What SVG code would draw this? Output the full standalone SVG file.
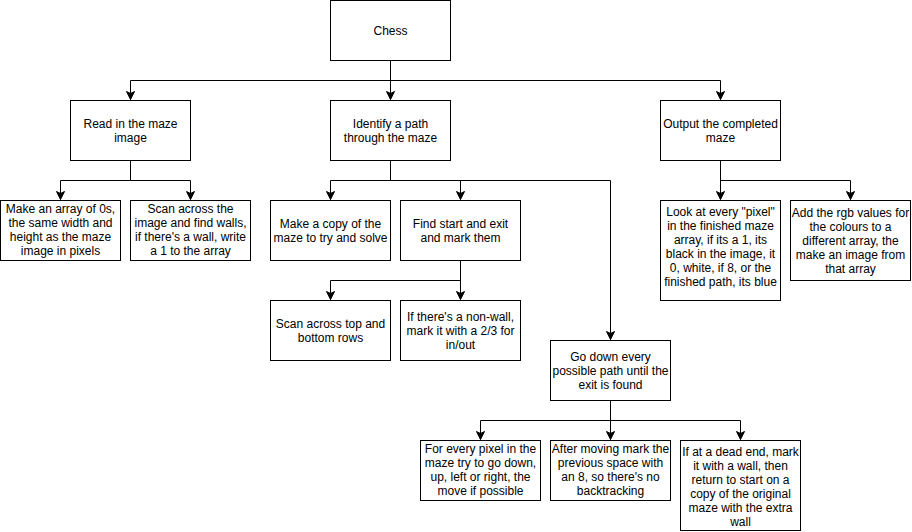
<svg xmlns="http://www.w3.org/2000/svg" width="912" height="532" viewBox="0 0 912 532">
<defs>
<style>
.box{fill:#fff;stroke:#000;stroke-width:1}
.lbl{font-family:"Liberation Sans",Arial,Helvetica,sans-serif;font-size:12px;fill:#000;text-anchor:middle}
.edge{fill:none;stroke:#000;stroke-width:1;marker-end:url(#arr)}
</style>
<marker id="arr" markerUnits="userSpaceOnUse" markerWidth="10" markerHeight="10" viewBox="-9 -5 10 10" refX="0" refY="0" orient="auto">
<path d="M0,0 L-8,-4 L-6,0 L-8,4 Z" fill="#000" stroke="#000" stroke-width="1"/>
</marker>
</defs>
<rect width="912" height="532" fill="#fff"/>
<g transform="translate(0.5,0.5)">
<g id="connectors">
<path class="edge" d="M390,60 V80 H130 V99"/>
<path class="edge" d="M390,60 V99"/>
<path class="edge" d="M390,60 V80 H720 V99"/>
<path class="edge" d="M130,160 V180 H60 V199"/>
<path class="edge" d="M130,160 V180 H190 V199"/>
<path class="edge" d="M390,160 V180 H330 V199"/>
<path class="edge" d="M390,160 V180 H460 V199"/>
<path class="edge" d="M390,160 V180 H610 V339"/>
<path class="edge" d="M460,260 V280 H330 V299"/>
<path class="edge" d="M460,260 V299"/>
<path class="edge" d="M720,160 V199"/>
<path class="edge" d="M720,160 V180 H850 V199"/>
<path class="edge" d="M610,400 V420 H480 V439"/>
<path class="edge" d="M610,400 V439"/>
<path class="edge" d="M610,400 V420 H740 V439"/>
</g>
<g id="chess">
<rect class="box" x="330" y="0" width="120" height="60"/>
<text class="lbl" x="390" y="34">Chess</text>
</g>
<g id="read">
<rect class="box" x="70" y="100" width="120" height="60"/>
<text class="lbl" x="130" y="127">Read in the maze<tspan x="130" dy="14">image</tspan></text>
</g>
<g id="identify">
<rect class="box" x="330" y="100" width="120" height="60"/>
<text class="lbl" x="390" y="127">Identify a path<tspan x="390" dy="14">through the maze</tspan></text>
</g>
<g id="output">
<rect class="box" x="660" y="100" width="120" height="60"/>
<text class="lbl" x="720" y="127">Output the completed<tspan x="720" dy="14">maze</tspan></text>
</g>
<g id="array">
<rect class="box" x="0" y="200" width="120" height="60"/>
<text class="lbl" x="60" y="212">Make an array of 0s,<tspan x="60" dy="14">the same width and</tspan><tspan x="60" dy="14">height as the maze</tspan><tspan x="60" dy="14">image in pixels</tspan></text>
</g>
<g id="scanwalls">
<rect class="box" x="130" y="200" width="120" height="60"/>
<text class="lbl" x="190" y="212">Scan across the<tspan x="190" dy="14">image and find walls,</tspan><tspan x="190" dy="14">if there's a wall, write</tspan><tspan x="190" dy="14">a 1 to the array</tspan></text>
</g>
<g id="copy">
<rect class="box" x="270" y="200" width="120" height="60"/>
<text class="lbl" x="330" y="227">Make a copy of the<tspan x="330" dy="14">maze to try and solve</tspan></text>
</g>
<g id="findstart">
<rect class="box" x="400" y="200" width="120" height="60"/>
<text class="lbl" x="460" y="227">Find start and exit<tspan x="460" dy="14">and mark them</tspan></text>
</g>
<g id="scanrows">
<rect class="box" x="270" y="300" width="120" height="60"/>
<text class="lbl" x="330" y="327">Scan across top and<tspan x="330" dy="14">bottom rows</tspan></text>
</g>
<g id="nonwall">
<rect class="box" x="400" y="300" width="120" height="60"/>
<text class="lbl" x="460" y="320">If there's a non-wall,<tspan x="460" dy="14">mark it with a 2/3 for</tspan><tspan x="460" dy="14">in/out</tspan></text>
</g>
<g id="godown">
<rect class="box" x="550" y="340" width="120" height="60"/>
<text class="lbl" x="610" y="360">Go down every<tspan x="610" dy="14">possible path until the</tspan><tspan x="610" dy="14">exit is found</tspan></text>
</g>
<g id="everypixel">
<rect class="box" x="420" y="440" width="120" height="60"/>
<text class="lbl" x="480" y="452">For every pixel in the<tspan x="480" dy="14">maze try to go down,</tspan><tspan x="480" dy="14">up, left or right, the</tspan><tspan x="480" dy="14">move if possible</tspan></text>
</g>
<g id="aftermoving">
<rect class="box" x="550" y="440" width="120" height="60"/>
<text class="lbl" x="610" y="452">After moving mark the<tspan x="610" dy="14">previous space with</tspan><tspan x="610" dy="14">an 8, so there's no</tspan><tspan x="610" dy="14">backtracking</tspan></text>
</g>
<g id="deadend">
<rect class="box" x="680" y="440" width="120" height="90"/>
<text class="lbl" x="740" y="455">If at a dead end, mark<tspan x="740" dy="14">it with a wall, then</tspan><tspan x="740" dy="14">return to start on a</tspan><tspan x="740" dy="14">copy of the original</tspan><tspan x="740" dy="14">maze with the extra</tspan><tspan x="740" dy="14">wall</tspan></text>
</g>
<g id="lookat">
<rect class="box" x="660" y="200" width="120" height="100"/>
<text class="lbl" x="720" y="215">Look at every "pixel"<tspan x="720" dy="14">in the finished maze</tspan><tspan x="720" dy="14">array, if its a 1, its</tspan><tspan x="720" dy="14">black in the image, it</tspan><tspan x="720" dy="14">0, white, if 8, or the</tspan><tspan x="720" dy="14">finished path, its blue</tspan></text>
</g>
<g id="rgb">
<rect class="box" x="790" y="200" width="120" height="80"/>
<text class="lbl" x="850" y="216">Add the rgb values for<tspan x="850" dy="14">the colours to a</tspan><tspan x="850" dy="14">different array, the</tspan><tspan x="850" dy="14">make an image from</tspan><tspan x="850" dy="14">that array</tspan></text>
</g>
</g>
</svg>
